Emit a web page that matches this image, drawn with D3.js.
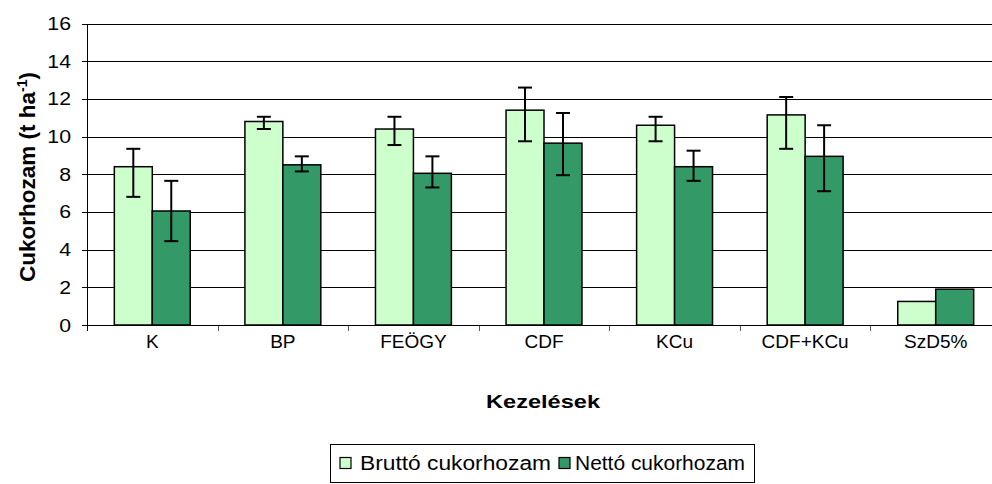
<!DOCTYPE html>
<html>
<head>
<meta charset="utf-8">
<script src="https://cdn.jsdelivr.net/npm/d3@7"></script>
<style>
  body { margin: 0; background: #fff; }
  svg { display: block; font-family: Arial, "Liberation Sans", sans-serif; }
  .grid line { stroke: #000; stroke-width: 1; shape-rendering: crispEdges; }
</style>
</head>
<body>
<svg id="chart" width="992" height="484"></svg>
<script>
const categories = ["K", "BP", "FEÖGY", "CDF", "KCu", "CDF+KCu", "SzD5%"];
const seriesNames = ["Bruttó cukorhozam", "Nettó cukorhozam"];
const bruttoValues = [8.4, 10.8, 10.4, 11.4, 10.6, 11.15, 1.25];
const bruttoLow = [6.8, 10.4, 9.55, 9.75, 9.75, 9.35, null];
const bruttoHigh = [9.35, 11.05, 11.05, 12.6, 11.05, 12.1, null];
const nettoValues = [6.05, 8.5, 8.05, 9.65, 8.4, 8.95, 1.9];
const nettoLow = [4.45, 8.15, 7.3, 7.95, 7.65, 7.1, null];
const nettoHigh = [7.65, 8.95, 8.95, 11.25, 9.25, 10.6, null];
const yTicks = [0, 2, 4, 6, 8, 10, 12, 14, 16];
const colors = ["#CCFFCC", "#339966"];

const margin = { left: 87, right: 1001, top: 23.5, bottom: 325 };

const svg = d3.select("#chart");

// widen text to the given length (the original text looks stretched sideways)
const stretch = (sel, len) => {
  sel.each(function (d) {
    const w = this.getComputedTextLength();
    const target = typeof len === "function" ? len(w, d) : len;
    d3.select(this).attr("textLength", target).attr("lengthAdjust", "spacingAndGlyphs");
  });
};

const x = d3.scaleBand()
  .domain(categories)
  .range([margin.left, margin.right])
  .paddingInner(0)
  .paddingOuter(0);

const xInner = d3.scaleBand()
  .domain(seriesNames)
  .range([0, x.bandwidth()])
  .paddingInner(0)
  .paddingOuter(0.72);

const y = d3.scaleLinear().domain([0, 16]).range([margin.bottom, margin.top]);

// gridlines
svg.append("g")
  .attr("class", "grid")
  .selectAll("line")
  .data(yTicks)
  .enter()
  .append("line")
  .attr("x1", margin.left - 5)
  .attr("x2", margin.right)
  .attr("y1", (d) => Math.round(y(d)) + 0.5)
  .attr("y2", (d) => Math.round(y(d)) + 0.5);

// y tick labels
svg.append("g")
  .selectAll("text")
  .data(yTicks)
  .enter()
  .append("text")
  .attr("x", margin.left - 16)
  .attr("y", (d) => y(d) + 6.5)
  .attr("text-anchor", "end")
  .attr("font-size", "18px")
  .text((d) => d)
  .call(stretch, (w) => w * 1.18);

// y axis line
svg.append("line")
  .attr("x1", margin.left + 0.5)
  .attr("x2", margin.left + 0.5)
  .attr("y1", margin.top)
  .attr("y2", margin.bottom + 6)
  .attr("stroke", "#000")
  .attr("shape-rendering", "crispEdges");

// x category ticks
svg.append("g")
  .selectAll("line")
  .data(categories.slice(1))
  .enter()
  .append("line")
  .attr("x1", (d) => Math.round(x(d)) + 0.5)
  .attr("x2", (d) => Math.round(x(d)) + 0.5)
  .attr("y1", margin.bottom)
  .attr("y2", margin.bottom + 6)
  .attr("stroke", "#555")
  .attr("shape-rendering", "crispEdges");

// bars
const series = [
  { name: seriesNames[0], values: bruttoValues, low: bruttoLow, high: bruttoHigh, color: colors[0] },
  { name: seriesNames[1], values: nettoValues, low: nettoLow, high: nettoHigh, color: colors[1] },
];

series.forEach((s) => {
  const rows = categories.map((c, i) => ({ c, v: s.values[i], lo: s.low[i], hi: s.high[i] }));

  svg.append("g")
    .selectAll("rect")
    .data(rows)
    .enter()
    .append("rect")
    .attr("x", (d) => x(d.c) + xInner(s.name))
    .attr("y", (d) => y(d.v))
    .attr("width", xInner.bandwidth())
    .attr("height", (d) => y(0) - y(d.v))
    .attr("fill", s.color)
    .attr("stroke", "#000")
    .attr("stroke-width", 1.5);

  const err = rows.filter((d) => d.lo !== null);
  const cx = (d) => x(d.c) + xInner(s.name) + xInner.bandwidth() / 2;
  const eg = svg.append("g").attr("stroke", "#000").attr("stroke-width", 2);

  eg.selectAll(".stem")
    .data(err)
    .enter()
    .append("line")
    .attr("x1", cx)
    .attr("x2", cx)
    .attr("y1", (d) => y(d.lo))
    .attr("y2", (d) => y(d.hi));

  ["lo", "hi"].forEach((k) => {
    eg.selectAll(".cap-" + k)
      .data(err)
      .enter()
      .append("line")
      .attr("x1", (d) => cx(d) - 7)
      .attr("x2", (d) => cx(d) + 7)
      .attr("y1", (d) => y(d[k]))
      .attr("y2", (d) => y(d[k]));
  });
});

// x axis line
svg.append("line")
  .attr("x1", margin.left)
  .attr("x2", margin.right)
  .attr("y1", Math.round(margin.bottom) + 0.5)
  .attr("y2", Math.round(margin.bottom) + 0.5)
  .attr("stroke", "#000")
  .attr("shape-rendering", "crispEdges");

// x labels
svg.append("g")
  .selectAll("text")
  .data(categories)
  .enter()
  .append("text")
  .attr("x", (d) => x(d) + x.bandwidth() / 2)
  .attr("y", margin.bottom + 23)
  .attr("text-anchor", "middle")
  .attr("font-size", "19px")
  .text((d) => d);

// axis titles
svg.append("text")
  .attr("x", 543)
  .attr("y", 408)
  .attr("text-anchor", "middle")
  .attr("font-size", "19px")
  .attr("font-weight", "bold")
  .text("Kezelések")
  .call(stretch, 114);

const yTitle = svg.append("text")
  .attr("transform", "translate(35,177) rotate(-90)")
  .attr("text-anchor", "middle")
  .attr("font-size", "22.5px")
  .attr("font-weight", "bold");
yTitle.append("tspan").text("Cukorhozam (t ha");
yTitle.append("tspan").attr("dy", -8).attr("font-size", "14px").text("-1");
yTitle.append("tspan").attr("dy", 8).text(")");

// legend
const legend = svg.append("g");
legend.append("rect")
  .attr("x", 330.5)
  .attr("y", 444.5)
  .attr("width", 424)
  .attr("height", 38)
  .attr("fill", "#fff")
  .attr("stroke", "#000");

const legendX = [340, 559];
const legendTextX = [360, 575];
const legendTextW = [191, 170];
seriesNames.forEach((name, i) => {
  legend.append("rect")
    .attr("x", legendX[i])
    .attr("y", 457.5)
    .attr("width", 11)
    .attr("height", 11)
    .attr("fill", colors[i])
    .attr("stroke", "#000")
    .attr("stroke-width", 1.2);
  legend.append("text")
    .attr("x", legendTextX[i])
    .attr("y", 470)
    .attr("font-size", "20px")
    .text(name)
    .call(stretch, legendTextW[i]);
});
</script>
</body>
</html>
